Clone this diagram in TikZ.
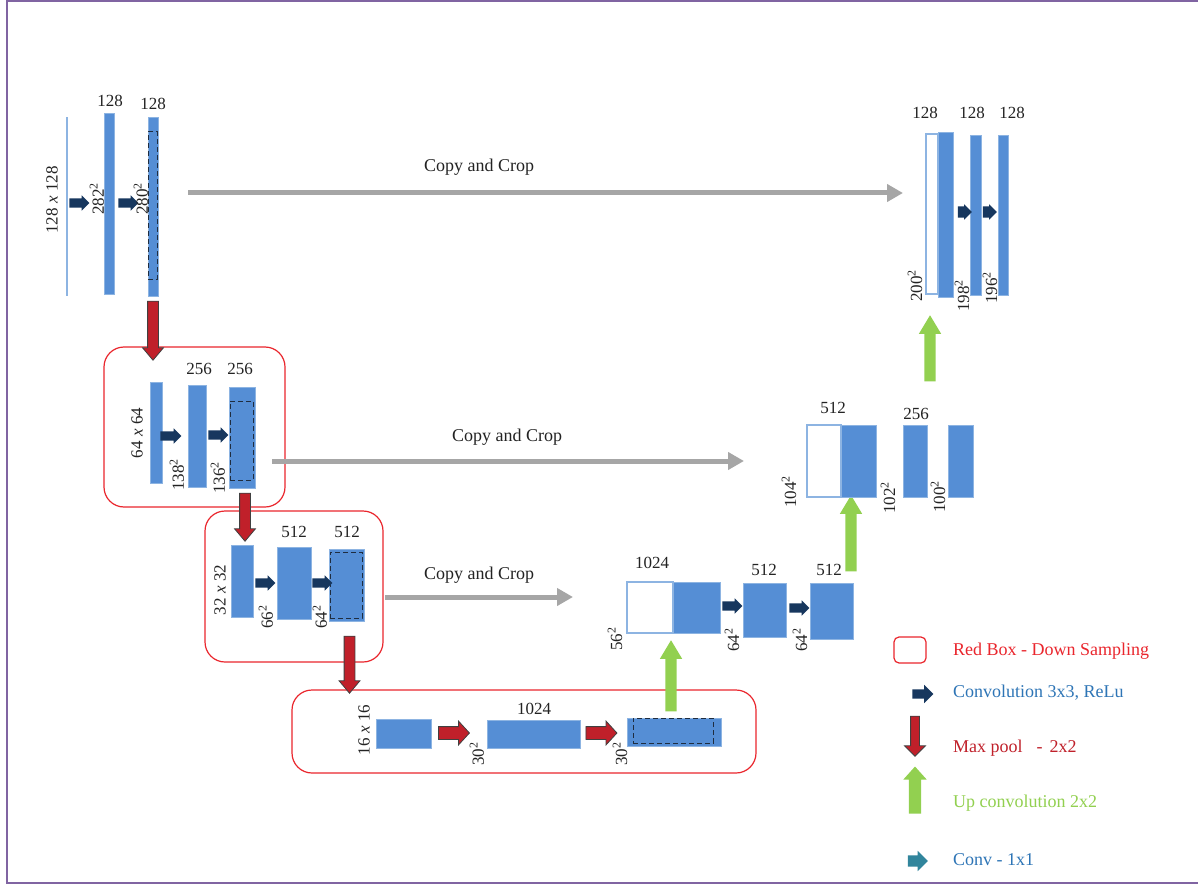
\documentclass[tikz,border=0pt]{standalone}
\usepackage{fontspec}
\setmainfont{Liberation Serif}
\usetikzlibrary{shapes.arrows,arrows.meta}

\definecolor{barfill}{RGB}{85,142,213}
\definecolor{barline}{RGB}{141,180,226}
\definecolor{navy}{RGB}{23,55,94}
\definecolor{poolred}{RGB}{192,32,42}
\definecolor{upgreen}{RGB}{146,208,80}
\definecolor{copygray}{RGB}{166,166,166}
\definecolor{boxred}{RGB}{234,38,45}
\definecolor{framepurple}{RGB}{128,100,162}
\definecolor{tealarr}{RGB}{49,133,156}
\definecolor{legblue}{RGB}{46,117,182}
\definecolor{dashnavy}{RGB}{31,45,64}
\definecolor{inkgray}{RGB}{35,35,35}

% rectangular block given by its corners: style, name, x1, y1, x2, y2
\newcommand\unetbox[6]{\node[#1, minimum width={#5-#3}, minimum height={#6-#4}] (#2) at ({(#3+#5)/2},{(#4+#6)/2}) {};}

\tikzset{
  bar/.style={draw=barline, line width=1pt, fill=barfill, inner sep=0pt, outer sep=0pt},
  hollow/.style={draw=barline, line width=1.2pt, fill=white, inner sep=0pt, outer sep=0pt},
  crop/.style={draw=dashnavy, dash pattern=on 5pt off 3pt, line width=1pt, inner sep=0pt},
  redbox/.style={draw=boxred, line width=1.2pt, rounded corners=20pt, inner sep=0pt},
  inputline/.style={fill=barline, draw=none, inner sep=0pt},
  % block arrows: shaft thickness = 2 * inner ysep, head = shaft + 2 * head extend
  blockarr/.style={single arrow, inner xsep=0pt, minimum width=0pt},
  convarr/.style={blockarr, fill=navy, draw=none, minimum height=20pt,
    inner ysep=4.5pt, single arrow head extend=3pt},
  poolarr/.style={blockarr, fill=poolred, draw=black!75, line width=0.8pt,
    inner ysep=5pt, single arrow head extend=5pt, single arrow tip angle=80},
  uparr/.style={blockarr, fill=upgreen, draw=none, inner ysep=5.5pt,
    single arrow head extend=5.5pt, single arrow tip angle=62, rotate=90},
  copyarr/.style={draw=copygray, line width=5pt, -{Triangle[length=16pt,width=17pt]}},
  dim/.style={font=\fontsize{17}{17}\selectfont, text=inkgray, inner sep=0pt},
  dimr/.style={dim, rotate=90},
  copylbl/.style={font=\fontsize{18}{18}\selectfont, text=inkgray, inner sep=0pt},
  legtext/.style={font=\fontsize{18}{18}\selectfont, anchor=west, inner sep=0pt},
}

\begin{document}
\begin{tikzpicture}[x=1pt, y=-1pt]
\useasboundingbox (0,0) rectangle (1198,885);
\fill[white] (0,0) rectangle (1198,885);

% outer frame
\draw[framepurple, line width=2pt] (1202,1.5) -- (6.5,1.5) -- (6.5,883) -- (1202,883);

% ---------- red down-sampling boxes ----------
\unetbox{redbox}{r2}{104}{347}{285}{507}
\unetbox{redbox}{r3}{205}{511}{383}{662}
\unetbox{redbox}{r4}{292}{690}{756}{773}

% ---------- level 1 (128 x 128) ----------
\unetbox{inputline}{t0}{66.2}{117}{67.8}{296}
\unetbox{bar}{t1}{104}{114}{114}{294}
\unetbox{bar}{t2}{148}{118}{158}{296}
\unetbox{crop}{t2c}{148}{132}{157}{279}
\node[convarr] (c1) at (77,203) {};
\node[convarr] (c2) at (126,203) {};
\node[dimr] (lt0) at (52,200) {128 \textit{x} 128};
\node[dim] (lt1) at (110,101) {128};
\node[dim] (lt2) at (153,104) {128};
\node[dimr] (lt3) at (97,199) {282\textsuperscript{2}};
\node[dimr] (lt4) at (141,199) {280\textsuperscript{2}};
\node[poolarr, minimum height=59pt, rotate=-90] (p1) at (153,327.5) {};

% ---------- level 2 (64 x 64) ----------
\unetbox{bar}{m1}{150}{382}{162}{483}
\unetbox{bar}{m2}{188}{385}{206}{487}
\unetbox{bar}{m3}{229}{387}{255}{488}
\unetbox{crop}{m3c}{230}{401}{253}{480}
\node[convarr, minimum height=21pt] (c3) at (168.5,436) {};
\node[convarr] (c4) at (216,435) {};
\node[dimr] (lm0) at (137,433) {64 \textit{x} 64};
\node[dimr] (lm1) at (177,475) {138\textsuperscript{2}};
\node[dimr] (lm2) at (218,478) {136\textsuperscript{2}};
\node[dim] (lm3) at (199,369) {256};
\node[dim] (lm4) at (240,369) {256};
\node[poolarr, minimum height=48pt, rotate=-90] (p2) at (245,514) {};

% ---------- level 3 (32 x 32) ----------
\unetbox{bar}{n1}{231}{545}{253}{617}
\unetbox{bar}{n2}{277}{547}{311}{619}
\unetbox{bar}{n3}{329}{549}{364}{621}
\unetbox{crop}{n3c}{330}{552}{362}{618}
\node[convarr] (c5) at (263,583) {};
\node[convarr] (c6) at (320,583) {};
\node[dimr] (ln0) at (220,590) {32 \textit{x} 32};
\node[dimr] (ln1) at (266,617) {66\textsuperscript{2}};
\node[dimr] (ln2) at (320,617) {64\textsuperscript{2}};
\node[dim] (ln3) at (294,532) {512};
\node[dim] (ln4) at (347,532) {512};
\node[poolarr, minimum height=57pt, rotate=-90] (p3) at (349.5,661.5) {};

% ---------- level 4 (16 x 16) ----------
\unetbox{bar}{b1}{376}{719}{431}{748}
\unetbox{bar}{b2}{487}{720}{580}{748}
\unetbox{bar}{b3}{627}{718}{721}{746}
\unetbox{crop}{b3c}{633}{718}{713}{743}
\node[poolarr, minimum height=31pt, inner ysep=6pt, single arrow head extend=5.5pt, single arrow tip angle=95] (p4) at (451,733) {};
\node[poolarr, minimum height=31pt, inner ysep=6pt, single arrow head extend=5.5pt, single arrow tip angle=95] (p5) at (598.5,733) {};
\node[dimr] (lb0) at (364,730) {16 \textit{x} 16};
\node[dimr] (lb1) at (477,754) {30\textsuperscript{2}};
\node[dimr] (lb2) at (620,754) {30\textsuperscript{2}};
\node[dim] (lb3) at (534,709) {1024};
\node[uparr, minimum height=71pt] (g1) at (671,680.5) {};

% ---------- expanding level 3 ----------
\unetbox{hollow}{u3w}{627}{582}{673}{633}
\unetbox{bar}{u3b}{673}{582}{720}{633}
\unetbox{bar}{u3c}{743}{583}{786}{637}
\unetbox{bar}{u3d}{810}{583}{853}{639}
\node[convarr] (c7) at (730,606) {};
\node[convarr] (c8) at (797,608) {};
\node[dim] (lu30) at (652,563) {1024};
\node[dim] (lu31) at (764,570) {512};
\node[dim] (lu32) at (829,570) {512};
\node[dimr] (lu33) at (615,639) {56\textsuperscript{2}};
\node[dimr] (lu34) at (732,640) {64\textsuperscript{2}};
\node[dimr] (lu35) at (800,640) {64\textsuperscript{2}};
\node[uparr, minimum height=76pt] (g2) at (851,538) {};

% ---------- expanding level 2 ----------
\unetbox{hollow}{u2w}{807}{425}{841}{497}
\unetbox{bar}{u2b}{841}{425}{876}{497}
\unetbox{bar}{u2c}{903}{425}{927}{497}
\unetbox{bar}{u2d}{948}{425}{973}{497}
\node[dim] (lu20) at (833,408) {512};
\node[dim] (lu21) at (916,414) {256};
\node[dimr] (lu22) at (789,492) {104\textsuperscript{2}};
\node[dimr] (lu23) at (888,498) {102\textsuperscript{2}};
\node[dimr] (lu24) at (938,497) {100\textsuperscript{2}};
\node[uparr, minimum height=66pt] (g3) at (930,353) {};

% ---------- expanding level 1 ----------
\unetbox{hollow}{u1w}{926}{134}{938}{294}
\unetbox{bar}{u1b}{938}{133}{953}{297}
\unetbox{bar}{u1c}{970}{136}{981}{295}
\unetbox{bar}{u1d}{998}{136}{1008}{295}
\node[convarr, minimum height=14pt, inner ysep=5.5pt, single arrow head extend=2pt] (c9) at (962,212) {};
\node[convarr, minimum height=14pt, inner ysep=5.5pt, single arrow head extend=2pt] (c10) at (987,212) {};
\node[dim] (lu10) at (925,113) {128};
\node[dim] (lu11) at (972,113) {128};
\node[dim] (lu12) at (1012,113) {128};
\node[dimr] (lu13) at (915,286) {200\textsuperscript{2}};
\node[dimr] (lu14) at (962,296) {198\textsuperscript{2}};
\node[dimr] (lu15) at (990,288) {196\textsuperscript{2}};

% ---------- copy and crop connectors ----------
\draw[copyarr] ([xshift=30pt,yshift=14pt]t2.east) -- ([xshift=-23pt,yshift=21pt]u1w.west);
\draw[copyarr] ([xshift=17pt,yshift=-23.5pt]m3.east) -- ([xshift=-63pt,yshift=0pt]u2w.west);
\draw[copyarr] ([xshift=21pt,yshift=-12pt]n3.east) -- ([xshift=-54pt,yshift=10.5pt]u3w.west);
\node[copylbl] (cc1) at (479,167) {Copy and Crop};
\node[copylbl] (cc2) at (507,437) {Copy and Crop};
\node[copylbl] (cc3) at (479,575) {Copy and Crop};

% ---------- legend ----------
\unetbox{redbox, rounded corners=5pt}{kr}{894}{637}{926}{663}
\node[convarr, minimum height=21pt, inner ysep=4.5pt, single arrow head extend=4.5pt] (kc) at (920.5,694) {};
\node[poolarr, minimum height=40pt, inner ysep=4pt, single arrow head extend=6pt, single arrow tip angle=90, rotate=-90] (kp) at (915,734) {};
\node[uparr, minimum height=47pt, inner ysep=6pt, single arrow head extend=5.5pt, single arrow tip angle=84] (kg) at (915,793.5) {};
\node[convarr, fill=tealarr, minimum height=20pt, inner ysep=5.5pt, single arrow head extend=4.5pt] (kt) at (915,861) {};
\node[legtext, text=boxred] (kt1) at (953,651) {Red Box - Down Sampling};
\node[legtext, text=legblue] (kt2) at (953,693) {Convolution 3x3, ReLu};
\node[legtext, text=poolred] (kt3) at (953,748) {Max pool\hspace{14pt}-\hspace{7pt}2x2};
\node[legtext, text=upgreen] (kt4) at (953,803) {Up convolution 2x2};
\node[legtext, text=legblue] (kt5) at (953,860) {Conv - 1x1};
\end{tikzpicture}
\end{document}
